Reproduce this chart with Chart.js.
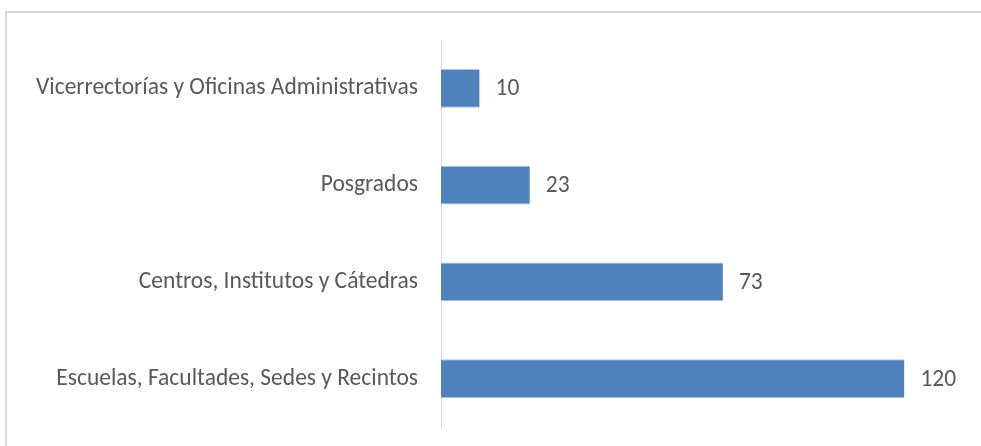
<!DOCTYPE html>
<html lang="es">
<head>
<meta charset="UTF-8"/>
<title>Gráfico de barras</title>
<script src="https://cdn.jsdelivr.net/npm/chart.js@4.4.0/dist/chart.umd.min.js"></script>
<style>
  body{margin:0;background:#fff;overflow:hidden}
  #box{position:absolute;left:0;top:0;width:981px;height:446px}
</style>
</head>
<body>
<div id="box"><canvas id="chart"></canvas></div>
<script>
const categories = [
  'Vicerrectorías y Oficinas Administrativas',
  'Posgrados',
  'Centros, Institutos y Cátedras',
  'Escuelas, Facultades, Sedes y Recintos'
];
const values = [10, 23, 73, 120];

const txtColor = '#595959';
const fontFam = 'Carlito, "Open Sans", sans-serif';
const fontSize = 23.5;

// outer frame of the chart object (only top and left edges are in view)
const frame = {
  id: 'frame',
  beforeDraw(chart) {
    const ctx = chart.ctx;
    ctx.save();
    ctx.strokeStyle = '#d9d9d9';
    ctx.lineWidth = 2;
    ctx.beginPath();
    ctx.moveTo(6, 460);
    ctx.lineTo(6, 12);
    ctx.lineTo(1000, 12);
    ctx.stroke();
    ctx.restore();
  }
};

// value labels at the end of each bar
const barLabels = {
  id: 'barLabels',
  afterDatasetsDraw(chart) {
    const ctx = chart.ctx;
    const meta = chart.getDatasetMeta(0);
    ctx.save();
    ctx.fillStyle = txtColor;
    ctx.font = fontSize + 'px ' + fontFam;
    ctx.textBaseline = 'middle';
    meta.data.forEach((bar, i) => {
      ctx.fillText(values[i], bar.x + 16, bar.y + 1);
    });
    ctx.restore();
  }
};

new Chart(document.getElementById('chart'), {
  type: 'bar',
  data: {
    labels: categories,
    datasets: [{
      data: values,
      backgroundColor: '#4f81bd',
      borderColor: '#a9c4e6',
      borderWidth: {top: 1, bottom: 1, left: 0, right: 0},
      categoryPercentage: 1,
      barPercentage: 0.4
    }]
  },
  options: {
    indexAxis: 'y',
    responsive: true,
    maintainAspectRatio: false,
    animation: false,
    layout: {padding: {top: 40, bottom: 19, left: 0, right: 38}},
    plugins: {legend: {display: false}, tooltip: {enabled: false}},
    scales: {
      x: {display: false, min: 0, max: 130},
      y: {
        grid: {display: false, drawTicks: false},
        border: {display: true, color: '#d9d9d9', width: 1},
        ticks: {color: txtColor, padding: 23, font: {family: fontFam, size: fontSize}},
        afterFit(scale) {
          scale.width = 441;
          scale.paddingTop = 0;
          scale.paddingBottom = 0;
        }
      }
    }
  },
  plugins: [frame, barLabels]
});
</script>
</body>
</html>
